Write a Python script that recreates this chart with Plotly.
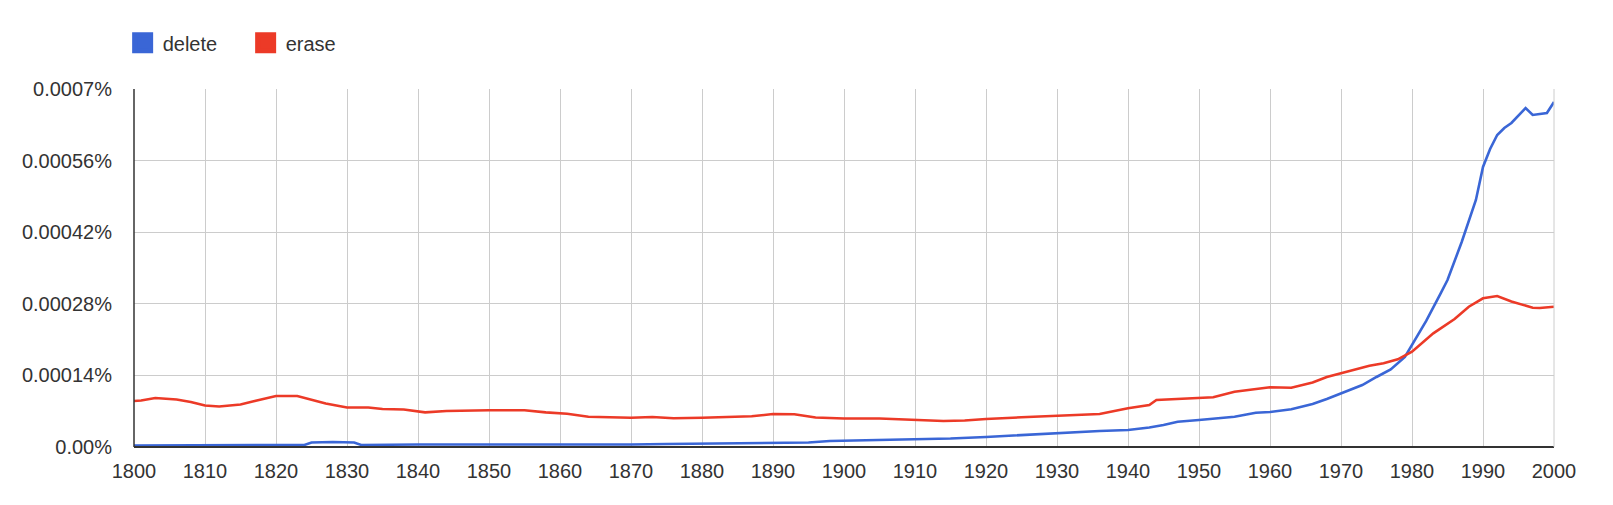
import plotly.graph_objects as go

# ---- data (values in percent) ----
delete_years = [1800, 1810, 1820, 1824, 1825, 1828, 1831, 1832, 1840, 1845, 1850, 1860, 1870, 1875,
                1880, 1885, 1890, 1895, 1898, 1900, 1905, 1910, 1915, 1920, 1925, 1930, 1933, 1936,
                1940, 1943, 1945, 1947, 1950, 1952, 1955, 1958, 1960, 1963, 1966, 1968, 1970, 1973,
                1975, 1977, 1979, 1980, 1982, 1984, 1985, 1987, 1989, 1990, 1991, 1992, 1993, 1994,
                1995, 1996, 1997, 1999, 2000]
delete_vals = [2.9e-6, 2.9e-6, 3.9e-6, 3.9e-6, 8.8e-6, 9.8e-6, 8.8e-6, 3.9e-6, 4.9e-6, 4.9e-6,
               3.9e-6, 4.9e-6, 4.9e-6, 5.9e-6, 6.8e-6, 7.8e-6, 7.8e-6, 8.8e-6, 11.7e-6, 12.3e-6,
               12.7e-6, 15.1e-6, 16.6e-6, 19.6e-6, 23.5e-6, 26.8e-6, 29.3e-6, 31.3e-6, 33.2e-6,
               38.1e-6, 43.0e-6, 49.5e-6, 52.8e-6, 55.3e-6, 59.2e-6, 67.1e-6, 68.4e-6, 73.7e-6,
               84.1e-6, 93.9e-6, 105.0e-6, 121.2e-6, 136.9e-6, 151.5e-6, 176.0e-6, 199.4e-6,
               246.4e-6, 299.2e-6, 326.5e-6, 400.8e-6, 483.0e-6, 547.5e-6, 582.7e-6, 610.1e-6,
               623.7e-6, 633.5e-6, 647.2e-6, 662.8e-6, 649.2e-6, 653.1e-6, 674.6e-6]

erase_years = [1800, 1801, 1803, 1806, 1808, 1810, 1812, 1815, 1817, 1820, 1823, 1825, 1827, 1830,
               1833, 1835, 1838, 1841, 1844, 1850, 1855, 1858, 1861, 1864, 1867, 1870, 1873, 1876,
               1880, 1884, 1887, 1890, 1893, 1896, 1900, 1905, 1910, 1914, 1917, 1920, 1925, 1930,
               1933, 1936, 1940, 1943, 1944, 1947, 1950, 1952, 1955, 1958, 1960, 1963, 1966, 1968,
               1970, 1974, 1976, 1978, 1980, 1983, 1986, 1988, 1990, 1992, 1994, 1997, 1998, 2000]
erase_vals = [89.9e-6, 90.9e-6, 95.8e-6, 92.9e-6, 88.0e-6, 81.1e-6, 79.2e-6, 83.1e-6, 89.9e-6,
              99.7e-6, 99.7e-6, 91.9e-6, 85.1e-6, 77.2e-6, 77.2e-6, 74.3e-6, 73.3e-6, 67.8e-6,
              70.4e-6, 71.8e-6, 71.8e-6, 67.8e-6, 65.1e-6, 59.2e-6, 58.1e-6, 57.3e-6, 58.7e-6,
              56.1e-6, 57.3e-6, 58.1e-6, 60.0e-6, 64.5e-6, 63.9e-6, 57.7e-6, 55.7e-6, 55.7e-6,
              53.4e-6, 50.8e-6, 51.8e-6, 54.7e-6, 58.1e-6, 60.6e-6, 61.6e-6, 64.5e-6, 75.7e-6,
              82.1e-6, 91.9e-6, 94.4e-6, 95.8e-6, 97.2e-6, 108.1e-6, 112.8e-6, 116.7e-6, 115.9e-6,
              126.1e-6, 136.9e-6, 144.1e-6, 159.0e-6, 163.7e-6, 171.5e-6, 186.3e-6, 222.3e-6,
              250.3e-6, 274.3e-6, 290.8e-6, 295.2e-6, 284.5e-6, 272.4e-6, 271.8e-6, 274.3e-6]

series_names = ["delete", "erase"]
series_colors = ["#3a66d6", "#ec3a27"]

y_tickvals = [0, 0.00014, 0.00028, 0.00042, 0.00056, 0.0007]
y_ticktext = ["0.00%", "0.00014%", "0.00028%", "0.00042%", "0.00056%", "0.0007%"]
x_tickvals = list(range(1800, 2001, 10))

FONT = "Liberation Sans, Arial, Helvetica, sans-serif"
TEXT = "#333333"

fig = go.Figure()
for name, xs, ys, col in [(series_names[0], delete_years, delete_vals, series_colors[0]),
                          (series_names[1], erase_years, erase_vals, series_colors[1])]:
    fig.add_trace(go.Scatter(x=xs, y=ys, mode="lines", name=name,
                             line=dict(color=col, width=2.6), showlegend=False))
    # legend entry drawn as a square swatch
    fig.add_trace(go.Scatter(x=[None], y=[None], mode="markers", name=name,
                             marker=dict(symbol="square", size=16, color=col,
                                         line=dict(width=5, color=col)),
                             showlegend=True))

fig.update_layout(
    width=1613, height=505,
    margin=dict(l=126, r=67, t=81, b=66, autoexpand=False),
    paper_bgcolor="white", plot_bgcolor="white",
    font=dict(family=FONT, size=20, color=TEXT),
    legend=dict(orientation="h", x=-0.008, y=0.931, xref="paper", yref="container",
                xanchor="left", yanchor="middle",
                font=dict(size=20, color=TEXT), entrywidth=78, entrywidthmode="pixels",
                tracegroupgap=0, bgcolor="rgba(0,0,0,0)"),
    xaxis=dict(range=[1800, 2000], tickvals=x_tickvals, showgrid=True, gridcolor="#cccccc",
               gridwidth=1, zeroline=False, showline=True, linecolor="#cccccc",
               ticks="", ticklabelstandoff=6, tickfont=dict(size=20, color=TEXT), mirror=False),
    yaxis=dict(range=[0, 0.0007], tickvals=y_tickvals, ticktext=y_ticktext, showgrid=True,
               gridcolor="#cccccc", gridwidth=1, zeroline=False, showline=False,
               ticks="", ticklabelstandoff=21, tickfont=dict(size=20, color=TEXT)),
    showlegend=True,
)
# dark left and bottom axis lines
fig.add_shape(type="line", xref="paper", yref="paper", x0=0, x1=0, y0=0, y1=1,
              line=dict(color="#333333", width=1.5))
fig.add_shape(type="line", xref="paper", yref="paper", x0=0, x1=1, y0=0, y1=0,
              line=dict(color="#333333", width=2))
fig.add_shape(type="line", xref="paper", yref="paper", x0=1, x1=1, y0=0, y1=1,
              line=dict(color="#cccccc", width=1))

fig.write_html("out.html")
